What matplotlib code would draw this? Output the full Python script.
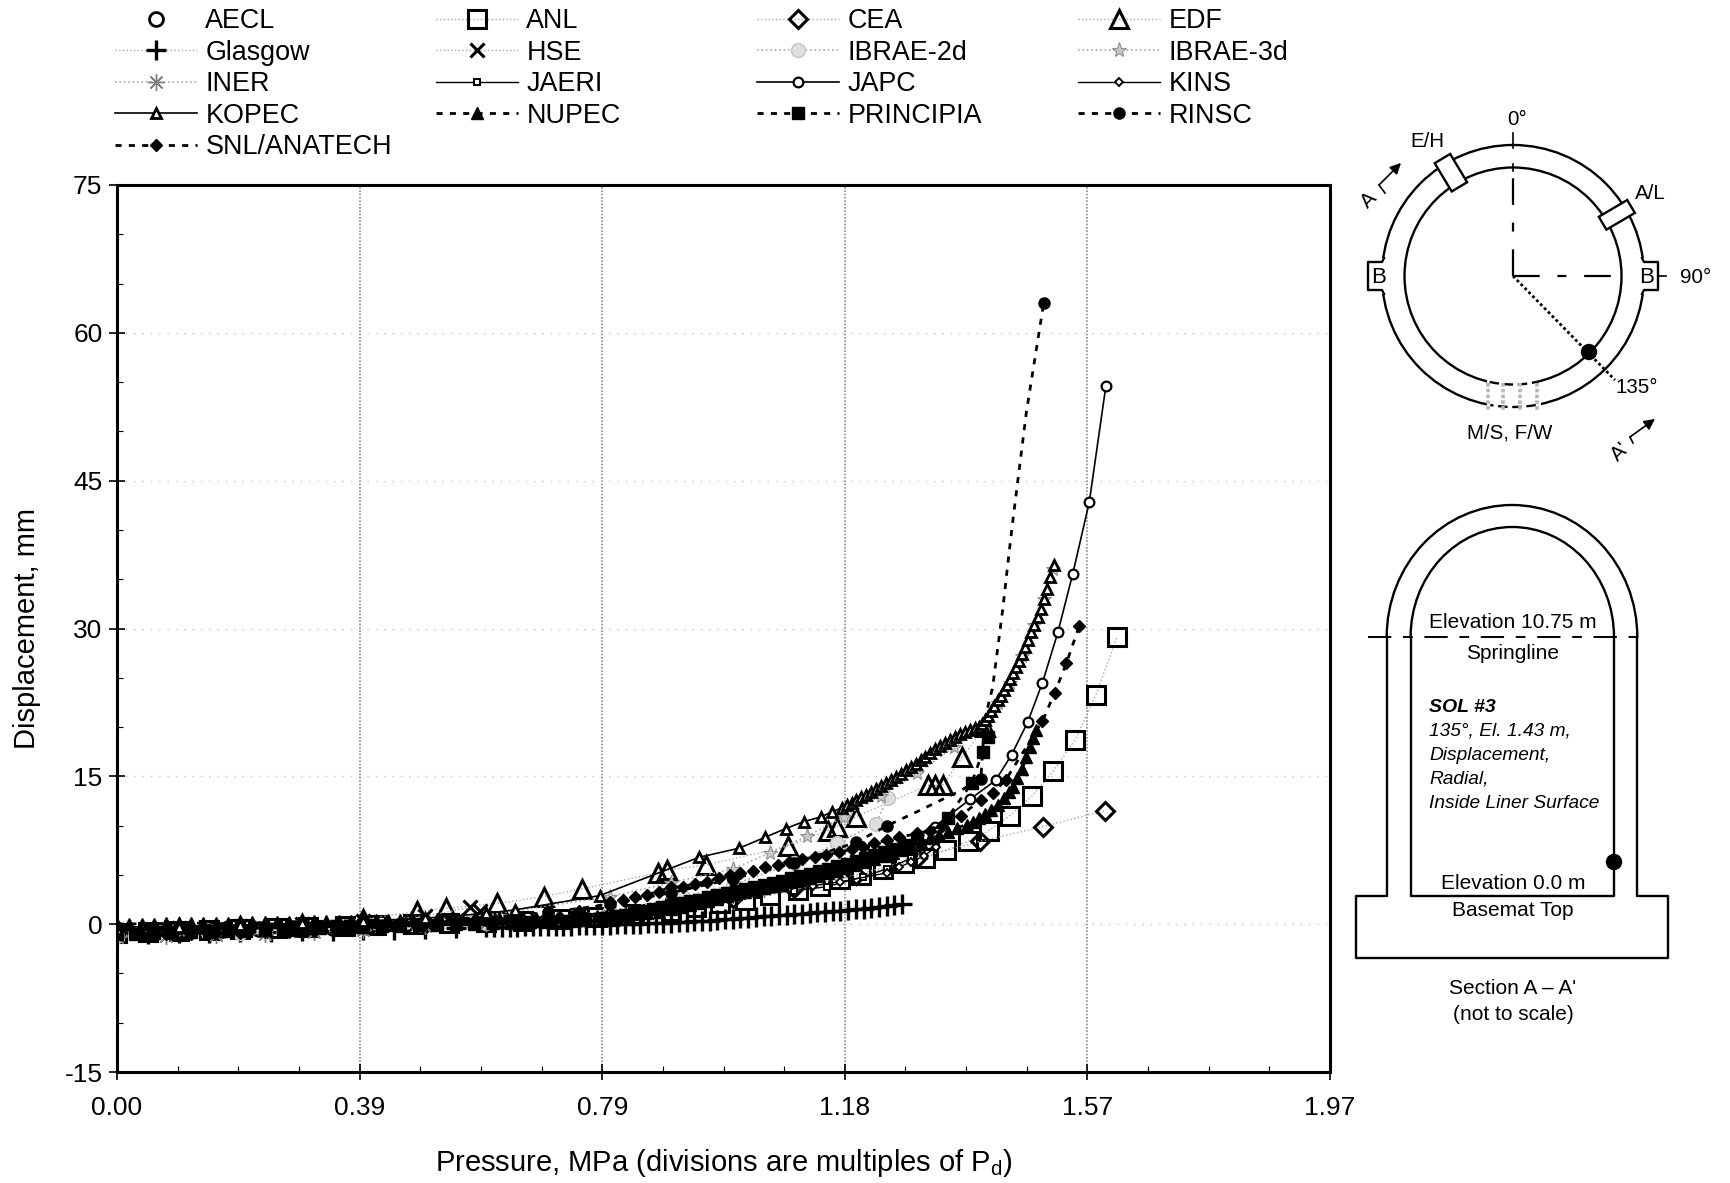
import numpy as np
import matplotlib
matplotlib.use('Agg')
import matplotlib.pyplot as plt
from matplotlib.patches import Circle, Rectangle, Arc, Polygon

plt.rcParams['font.family'] = ['Liberation Sans', 'DejaVu Sans']
plt.rcParams['mathtext.default'] = 'regular'
plt.rcParams['axes.unicode_minus'] = False

# pressure (MPa) / displacement (mm)
aecl_p = [0.0, 0.05, 0.11, 0.17, 0.23, 0.29, 0.35, 0.41, 0.47]
aecl_d = [-0.9, -0.8, -0.7, -0.6, -0.5, -0.45, -0.4, -0.2, 0.0]

anl_p = [0.0, 0.05, 0.1, 0.15, 0.2, 0.26, 0.31, 0.37, 0.42, 0.48, 0.54, 0.6, 0.66, 0.72, 0.78, 0.84, 0.9,
         0.94, 0.98, 1.02, 1.06, 1.106, 1.142, 1.174, 1.208, 1.244, 1.278, 1.312, 1.346, 1.382, 1.416,
         1.45, 1.486, 1.52, 1.556, 1.59, 1.624]
anl_d = [-0.9, -0.8, -0.7, -0.6, -0.5, -0.4, -0.3, -0.2, -0.1, 0.0, 0.1, 0.2, 0.3, 0.5, 0.7, 1.0, 1.3,
         1.7, 2.1, 2.5, 3.0, 3.5, 3.9, 4.6, 5.0, 5.6, 6.2, 6.7, 7.5, 8.4, 9.5,
         11.0, 13.0, 15.5, 18.7, 23.3, 29.1]

cea_p = [0.0, 0.1, 0.2, 0.3, 0.4, 0.5, 0.6, 0.7, 0.8, 0.9, 1.0, 1.1, 1.2, 1.3, 1.401, 1.504, 1.604]
cea_d = [-1.0, -0.7, -0.5, -0.3, -0.2, 0.0, 0.2, 0.5, 1.0, 1.8, 2.7, 3.7, 5.0, 6.7, 8.4, 9.9, 11.5]

edf_p = [0.1, 0.2, 0.3, 0.4, 0.487, 0.534, 0.617, 0.693, 0.756, 0.878, 0.894, 0.956, 1.089, 1.154, 1.169,
         1.2, 1.317, 1.328, 1.341, 1.373, 1.41]
edf_d = [-0.4, -0.2, 0.0, 0.5, 1.3, 1.6, 2.1, 2.8, 3.6, 5.2, 5.5, 6.0, 7.9, 9.5, 9.9,
         10.9, 14.1, 14.1, 14.1, 17.0, 20.0]

glasgow_p = [0.0, 0.05, 0.1, 0.15, 0.2, 0.25, 0.3, 0.35, 0.4, 0.45, 0.5, 0.55, 0.6, 0.6125, 0.625, 0.6375, 0.65,
             0.6625, 0.675, 0.6875, 0.7, 0.7125, 0.725, 0.7375, 0.75, 0.7625, 0.775, 0.7875, 0.8, 0.8125,
             0.825, 0.8375, 0.85, 0.8625, 0.875, 0.8875, 0.9, 0.9125, 0.925, 0.9375, 0.95, 0.9625, 0.975,
             0.9875, 1.0, 1.0125, 1.025, 1.0375, 1.05, 1.0625, 1.075, 1.0875, 1.1, 1.1125, 1.125, 1.1375,
             1.15, 1.1625, 1.175, 1.1875, 1.2, 1.2125, 1.225, 1.2375, 1.25, 1.2625, 1.275]
glasgow_d = [-1.0, -0.95, -0.9, -0.85, -0.8, -0.75, -0.7, -0.65, -0.6, -0.55, -0.5, -0.4, -0.3, -0.3, -0.28, -0.27, -0.25,
             -0.23, -0.22, -0.2, -0.2, -0.18, -0.16, -0.14, -0.12, -0.1, -0.1, -0.08, -0.05, -0.02,
             0.0, 0.02, 0.05, 0.08, 0.1, 0.13, 0.16, 0.2, 0.24, 0.28, 0.32, 0.36, 0.42,
             0.48, 0.54, 0.6, 0.66, 0.72, 0.78, 0.84, 0.9, 0.96, 1.02, 1.08, 1.14, 1.2,
             1.26, 1.32, 1.38, 1.44, 1.5, 1.56, 1.62, 1.7, 1.8, 1.9, 2.0]

hse_p = [0.0, 0.1, 0.2, 0.3, 0.4, 0.5, 0.573, 0.59]
hse_d = [-0.6, -0.4, -0.2, 0.0, 0.3, 0.8, 1.7, 1.3]

ibrae2d_p = [0.0, 0.2, 0.4, 0.6, 0.8, 0.92, 1.0, 1.1, 1.17, 1.232, 1.252]
ibrae2d_d = [-1.2, -0.9, -0.4, 0.1, 1.3, 2.8, 4.0, 6.2, 8.2, 10.2, 12.8]

ibrae3d_p = [0.0, 0.2, 0.4, 0.6, 0.8, 0.9, 1.0, 1.06, 1.12, 1.18, 1.24, 1.3, 1.36, 1.41, 1.43, 1.45, 1.47, 1.49, 1.505, 1.52]
ibrae3d_d = [-0.7, -0.3, 0.1, 0.9, 2.8, 4.2, 5.6, 7.2, 8.9, 10.9, 13.0, 15.3, 18.0, 20.3, 22.4, 24.5, 27.2, 30.4, 33.0, 36.0]

iner_p = [0.0, 0.08, 0.16, 0.24, 0.32, 0.4, 0.5, 0.6, 0.7, 0.8, 0.9, 1.0, 1.05, 1.1]
iner_d = [-1.3, -1.2, -1.1, -1.0, -0.8, -0.6, -0.2, 0.1, 0.7, 1.3, 2.1, 3.0, 3.6, 4.2]

jaeri_p = [0.0, 0.1, 0.2, 0.3, 0.4, 0.5, 0.6, 0.7, 0.8, 0.9, 0.98, 1.04, 1.1, 1.153, 1.211, 1.25, 1.29, 1.33]
jaeri_d = [-0.7, -0.6, -0.5, -0.4, -0.2, 0.0, 0.2, 0.5, 0.9, 1.5, 2.3, 3.0, 3.4, 3.8, 4.8, 5.6, 6.7, 8.0]

japc_p = [0.0, 0.3, 0.6, 0.8, 0.95, 1.1, 1.2, 1.28, 1.328, 1.386, 1.427, 1.453, 1.479, 1.503, 1.528, 1.552, 1.579, 1.606]
japc_d = [-0.3, 0.0, 0.4, 1.0, 2.5, 4.5, 6.3, 8.1, 9.9, 12.7, 14.6, 17.2, 20.5, 24.5, 29.6, 35.5, 42.8, 54.6]

kins_p = [0.0, 0.12, 0.24, 0.36, 0.48, 0.6, 0.72, 0.84, 0.94, 1.02, 1.09, 1.13, 1.175, 1.25, 1.27, 1.29, 1.31, 1.33]
kins_d = [-0.5, -0.4, -0.3, -0.1, 0.1, 0.4, 0.8, 1.4, 2.2, 3.0, 3.6, 3.9, 4.3, 5.2, 5.8, 6.3, 6.9, 7.8]

kopec_p = [0.0, 0.1, 0.2, 0.3, 0.4, 0.5, 0.6, 0.646, 0.784, 0.946, 1.01, 1.052, 1.086, 1.115, 1.144, 1.161, 1.177,
           1.185, 1.193, 1.201, 1.209, 1.217, 1.225, 1.233, 1.241, 1.249, 1.257, 1.265, 1.273, 1.281, 1.289,
           1.297, 1.305, 1.313, 1.321, 1.329, 1.337, 1.345, 1.353, 1.361, 1.369, 1.377, 1.385, 1.393, 1.4,
           1.405, 1.41, 1.415, 1.42, 1.425, 1.43, 1.435, 1.44, 1.445, 1.45, 1.455, 1.46, 1.465, 1.47, 1.475,
           1.48, 1.485, 1.49, 1.495, 1.5, 1.505, 1.51, 1.515, 1.521]
kopec_d = [-0.5, -0.3, -0.1, 0.1, 0.3, 0.6, 1.1, 1.45, 2.9, 6.8, 7.7, 8.8, 9.7, 10.4, 10.9, 11.4, 11.8,
           12.1, 12.3, 12.6, 12.9, 13.1, 13.4, 13.7, 14.0, 14.3, 14.6, 14.9, 15.2, 15.6, 15.9,
           16.3, 16.7, 17.0, 17.4, 17.8, 18.1, 18.4, 18.7, 19.0, 19.3, 19.5, 19.7, 19.9, 20.0,
           20.3, 20.7, 21.1, 21.6, 22.1, 22.7, 23.2, 23.8, 24.3, 24.9, 25.5, 26.1, 26.7, 27.4, 28.1,
           28.8, 29.6, 30.4, 31.2, 32.0, 33.0, 34.0, 35.2, 36.4]

nupec_p = [0.0, 0.02, 0.04, 0.06, 0.08, 0.1, 0.12, 0.14, 0.16, 0.18, 0.2, 0.22, 0.24, 0.26, 0.28, 0.3, 0.32, 0.34, 0.36,
           0.38, 0.4, 0.42, 0.44, 0.46, 0.48, 0.5, 0.52, 0.54, 0.56, 0.58, 0.6, 0.62, 0.64, 0.66, 0.68, 0.7, 0.72,
           0.74, 0.76, 0.78, 0.8, 0.82, 0.84, 0.86, 0.88, 0.9, 0.915, 0.93, 0.946, 0.96, 0.975, 0.99, 1.005, 1.02,
           1.035, 1.05, 1.065, 1.08, 1.095, 1.11, 1.125, 1.14, 1.155, 1.17, 1.185, 1.2, 1.215, 1.23, 1.245, 1.26,
           1.275, 1.29, 1.305, 1.32, 1.335, 1.35, 1.365, 1.38, 1.39, 1.4, 1.41, 1.42, 1.43, 1.44, 1.448, 1.455,
           1.462, 1.47, 1.477, 1.483, 1.488, 1.493]
nupec_d = [0.0, 0.02, 0.04, 0.05, 0.07, 0.08, 0.1, 0.12, 0.14, 0.16, 0.18, 0.2, 0.22, 0.23, 0.25, 0.26, 0.28, 0.3, 0.32,
           0.34, 0.36, 0.38, 0.4, 0.42, 0.44, 0.46, 0.48, 0.5, 0.52, 0.54, 0.56, 0.58, 0.6, 0.62, 0.64, 0.66, 0.68,
           0.72, 0.76, 0.8, 0.85, 0.9, 1.0, 1.1, 1.25, 1.5, 1.7, 1.9, 2.1, 2.4, 2.6, 2.9, 3.1, 3.3,
           3.5, 3.7, 3.9, 4.1, 4.3, 4.5, 4.7, 4.9, 5.2, 5.4, 5.7, 6.0, 6.3, 6.6, 6.9, 7.2,
           7.5, 7.9, 8.3, 8.7, 9.0, 9.4, 9.8, 10.1, 10.4, 10.8, 11.2, 11.6, 12.1, 12.8, 13.4, 13.9,
           14.8, 15.7, 17.0, 18.0, 18.9, 19.7]

principia_p = [0.0, 0.03, 0.06, 0.09, 0.12, 0.15, 0.18, 0.21, 0.24, 0.27, 0.3, 0.33, 0.36, 0.38, 0.4, 0.43, 0.46, 0.49,
               0.52, 0.55, 0.58, 0.61, 0.64, 0.67, 0.7, 0.73, 0.76, 0.79, 0.81, 0.825, 0.84, 0.855, 0.87, 0.885, 0.9,
               0.915, 0.93, 0.945, 0.96, 0.975, 0.99, 1.005, 1.02, 1.035, 1.05, 1.065, 1.08, 1.095, 1.11, 1.125, 1.14,
               1.155, 1.17, 1.185, 1.2, 1.215, 1.23, 1.245, 1.26, 1.28, 1.3, 1.349, 1.388, 1.406, 1.414]
principia_d = [-1.0, -0.95, -0.9, -0.85, -0.8, -0.75, -0.7, -0.65, -0.6, -0.55, -0.5, -0.4, -0.35, -0.3, -0.25, -0.2, -0.15, -0.1,
               -0.05, 0.0, 0.05, 0.1, 0.15, 0.2, 0.25, 0.35, 0.5, 0.65, 0.8, 0.95, 1.1, 1.3, 1.5, 1.7, 1.9,
               2.1, 2.3, 2.5, 2.8, 3.0, 3.2, 3.4, 3.6, 3.8, 4.0, 4.2, 4.4, 4.7, 4.9, 5.1, 5.4,
               5.6, 5.9, 6.1, 6.4, 6.7, 7.0, 7.3, 7.6, 8.0, 8.6, 10.8, 14.3, 17.5, 19.0]

rinsc_p = [0.0, 0.1, 0.2, 0.3, 0.4, 0.5, 0.6, 0.7, 0.8, 0.9, 1.0, 1.1, 1.2, 1.251, 1.299, 1.365, 1.403,
           1.409, 1.422, 1.432, 1.439, 1.447, 1.455, 1.477, 1.505]
rinsc_d = [-0.6, -0.4, -0.2, 0.0, 0.2, 0.4, 0.7, 1.2, 2.0, 3.2, 4.6, 6.2, 8.3, 10.0, 11.4, 13.4, 14.7,
           20.7, 24.0, 28.8, 32.2, 36.7, 41.0, 52.0, 63.0]
rinsc_marks = [0, 1, 2, 3, 4, 5, 6, 7, 8, 9, 10, 11, 12, 13, 16, 24]

snl_p = [0.0, 0.04, 0.08, 0.12, 0.16, 0.2, 0.24, 0.28, 0.32, 0.36, 0.4, 0.45, 0.5, 0.55, 0.6, 0.65, 0.7, 0.75, 0.8, 0.821,
         0.841, 0.86, 0.88, 0.9, 0.919, 0.938, 0.958, 0.977, 0.995, 1.011, 1.033, 1.053, 1.073, 1.091, 1.112, 1.133,
         1.152, 1.172, 1.193, 1.211, 1.23, 1.25, 1.27, 1.299, 1.32, 1.34, 1.37, 1.403, 1.422, 1.443, 1.503, 1.523,
         1.542, 1.563]
snl_d = [-1.1, -1.05, -1.0, -0.95, -0.9, -0.85, -0.8, -0.75, -0.65, -0.55, -0.4, -0.2, 0.0, 0.2, 0.4, 0.55, 0.8, 1.3, 2.2, 2.5,
         2.8, 3.0, 3.3, 3.8, 3.8, 4.1, 4.3, 4.7, 5.0, 5.2, 5.4, 5.8, 6.0, 6.3, 6.6, 6.8,
         7.0, 7.3, 7.6, 7.8, 8.2, 8.5, 8.8, 9.2, 9.5, 10.0, 11.0, 12.6, 13.3, 14.6, 20.6, 23.5,
         26.5, 30.3]

x_ticks = [0.0, 0.394, 0.788, 1.182, 1.576, 1.97]
x_tick_labels = ['0.00', '0.39', '0.79', '1.18', '1.57', '1.97']
y_ticks = [-15, 0, 15, 30, 45, 60, 75]

fig = plt.figure(figsize=(17.30, 11.83), dpi=100)
ax = fig.add_axes([117 / 1730, 1 - 1072 / 1183, (1330 - 117) / 1730, (1072 - 185) / 1183])

GREY = '#a8a8a8'
DASH = (0, (2.2, 2.6))

h_aecl, = ax.plot(aecl_p, aecl_d, ls='none', marker='o', ms=10, mfc='none', mec='k', mew=2)
h_anl, = ax.plot(anl_p, anl_d, color=GREY, ls=':', lw=1, marker='s', ms=12.5, mfc='none', mec='k', mew=2.2)
h_cea, = ax.plot(cea_p, cea_d, color=GREY, ls=':', lw=1, marker='D', ms=9, mfc='none', mec='k', mew=2.2)
h_edf, = ax.plot(edf_p, edf_d, color=GREY, ls=':', lw=1, marker='^', ms=13, mfc='none', mec='k', mew=2.2)
h_glasgow, = ax.plot(glasgow_p, glasgow_d, color=GREY, ls=':', lw=1, marker='+', ms=14, mec='k', mew=2.4)
h_hse, = ax.plot(hse_p, hse_d, color=GREY, ls=':', lw=1, marker='x', ms=10, mec='k', mew=2.2)
h_ibrae2d, = ax.plot(ibrae2d_p, ibrae2d_d, color=GREY, ls=':', lw=1.2, marker='o', ms=10, mfc='#dedede', mec='#c4c4c4', mew=1)
h_ibrae3d, = ax.plot(ibrae3d_p, ibrae3d_d, color=GREY, ls=':', lw=1.2, marker='*', ms=11, mfc='#c8c8c8', mec='#909090', mew=0.8)
h_iner, = ax.plot(iner_p, iner_d, color=GREY, ls=':', lw=1.2, marker=(8, 2, 0), ms=12, mec='#808080', mew=1)
h_jaeri, = ax.plot(jaeri_p, jaeri_d, color='k', ls='-', lw=1, marker='s', ms=5, mfc='white', mec='k', mew=1.4)
h_japc, = ax.plot(japc_p, japc_d, color='k', ls='-', lw=1.2, marker='o', ms=7, mfc='white', mec='k', mew=1.6)
h_kins, = ax.plot(kins_p, kins_d, color='k', ls='-', lw=1, marker='D', ms=4.2, mfc='white', mec='k', mew=1.4)
h_nupec, = ax.plot(nupec_p, nupec_d, color='k', ls=DASH, lw=2, marker='^', ms=9, mfc='k', mec='k')
h_principia, = ax.plot(principia_p, principia_d, color='k', ls=DASH, lw=2, marker='s', ms=8, mfc='k', mec='k')
h_rinsc, = ax.plot(rinsc_p, rinsc_d, color='k', ls=DASH, lw=2, marker='o', ms=8, mfc='k', mec='k', markevery=rinsc_marks)
h_snl, = ax.plot(snl_p, snl_d, color='k', ls=DASH, lw=2, marker='D', ms=6.5, mfc='k', mec='k')
h_kopec, = ax.plot(kopec_p, kopec_d, color='k', ls='-', lw=1.2, marker='^', ms=6.5, mfc='white', mec='k', mew=2)

ax.set_xlim(0, 1.97)
ax.set_ylim(-15, 75)
ax.set_xticks(x_ticks)
ax.set_xticklabels(x_tick_labels)
ax.set_yticks(y_ticks)
ax.set_xticks([0.0985, 0.197, 0.2955, 0.4925, 0.591, 0.6895, 0.8865, 0.985, 1.0835, 1.2805, 1.379, 1.4775, 1.6745, 1.773, 1.8715], minor=True)
ax.set_yticks([-10, -5, 5, 10, 20, 25, 35, 40, 50, 55, 65, 70], minor=True)
ax.tick_params(which='major', direction='inout', length=11, width=1.2, labelsize=19, pad=5)
ax.tick_params(axis='x', which='major', pad=12)
ax.tick_params(which='minor', direction='in', length=4, width=0.8)
ax.xaxis.grid(True, color='#8c8c8c', ls=(0, (1, 1)), lw=1.2)
ax.yaxis.grid(True, color='#c4c4c4', ls=(0, (1, 5)), lw=1)
ax.set_axisbelow(True)
for s in ax.spines.values():
    s.set_linewidth(2.2)
ax.set_xlabel('Pressure, MPa (divisions are multiples of P$_{d}$)', fontsize=21, labelpad=19)
ax.set_ylabel('Displacement, mm', fontsize=21, labelpad=17)

# legend, one block per column because the columns are evenly spaced
columns = [
    (115, [h_aecl, h_glasgow, h_iner, h_kopec, h_snl], ['AECL', 'Glasgow', 'INER', 'KOPEC', 'SNL/ANATECH']),
    (436, [h_anl, h_hse, h_jaeri, h_nupec], ['ANL', 'HSE', 'JAERI', 'NUPEC']),
    (757, [h_cea, h_ibrae2d, h_japc, h_principia], ['CEA', 'IBRAE-2d', 'JAPC', 'PRINCIPIA']),
    (1078, [h_edf, h_ibrae3d, h_kins, h_rinsc], ['EDF', 'IBRAE-3d', 'KINS', 'RINSC']),
]
for left, handles, labels in columns:
    fig.legend(handles, labels, loc='upper left', bbox_to_anchor=(left / 1730, 1 - 8.5 / 1183), frameon=False,
               fontsize=19.4, numpoints=1, handlelength=3.05, handletextpad=0.3, labelspacing=0.2,
               borderpad=0, borderaxespad=0)

# schematics, drawn on a full figure axes in pixels
sk = fig.add_axes([0, 0, 1, 1])
sk.set_xlim(0, 1730)
sk.set_ylim(1183, 0)
sk.axis('off')
sk.patch.set_alpha(0)

LW = 1.7
cx, cy = 1513, 276
sk.add_patch(Circle((cx, cy), 131, fc='none', ec='k', lw=LW))
sk.add_patch(Circle((cx, cy), 108.5, fc='none', ec='k', lw=LW))

# buttresses
for side in (-1, 1):
    sk.add_patch(Rectangle((cx + side * 131 - 8, cy - 18), 16, 36, fc='white', ec='none', zorder=2))
    sk.plot([cx + side * 129, cx + side * 131, cx + side * 145, cx + side * 145, cx + side * 131, cx + side * 129],
            [cy - 18, cy - 14, cy - 14, cy + 14, cy + 14, cy + 18], color='k', lw=LW, zorder=3)
    sk.text(cx + side * 134, cy + 1, 'B', fontsize=16, ha='center', va='center', zorder=4)

# E/H and A/L hatches
for deg, half in ((-31, 9), (59.5, 7.5)):
    a = np.radians(deg)
    ux, uy = np.sin(a), -np.cos(a)
    vx, vy = np.cos(a), np.sin(a)
    corners = [(cx + ux * r + vx * s * half, cy + uy * r + vy * s * half)
               for r, s in ((104, -1), (137, -1), (137, 1), (104, 1))]
    sk.add_patch(Polygon(corners, closed=True, fc='white', ec='k', lw=LW, zorder=3))

# M/S, F/W opening
sk.add_patch(Rectangle((1487, 378), 54, 36, fc='white', ec='none', zorder=2))
t0, t1 = 65, 115
sk.add_patch(Arc((cx, cy), 217, 217, theta1=t0 + 10, theta2=t1 - 10, ec='k', lw=LW, ls=(0, (4, 2)), zorder=3))
sk.add_patch(Arc((cx, cy), 262, 262, theta1=t0 + 15, theta2=t1 - 15, ec='k', lw=LW, ls=(0, (4, 2)), zorder=3))
for xv in (1488, 1503, 1520, 1537):
    sk.plot([xv, xv], [383, 411], color='#b8b8b8', lw=2.6, ls=(0, (1, 0.6)), zorder=3)

sk.plot([cx, cx], [cy, cy - 108], color='k', lw=1.6, ls=(0, (12, 8, 4, 8)))
sk.plot([cx, cx + 108], [cy, cy], color='k', lw=1.6, ls=(0, (12, 8, 4, 8)))
sk.plot([cx, cx], [cy - 143, cy - 128], color='k', lw=1.2)
sk.plot([cx, cx], [cy - 112, cy - 105], color='k', lw=1.2)
sk.plot([cx + 145, cx + 153], [cy, cy], color='k', lw=1.2)
sk.plot([cx, 1615], [cy, 380], color='k', lw=2, ls=(0, (1, 1)))
sk.add_patch(Circle((1589, 352), 7.5, fc='k', ec='k', zorder=5))

# section arrows
sk.plot([1385, 1379], [193, 185], color='k', lw=1.2)
sk.annotate('', xy=(1401, 163), xytext=(1379, 185), arrowprops=dict(arrowstyle='-|>', color='k', lw=1.2, mutation_scale=16, shrinkA=0, shrinkB=0))
sk.plot([1633, 1630], [443, 437], color='k', lw=1.2)
sk.annotate('', xy=(1655, 419), xytext=(1630, 437), arrowprops=dict(arrowstyle='-|>', color='k', lw=1.2, mutation_scale=16, shrinkA=0, shrinkB=0))
sk.text(1369, 200, 'A', fontsize=15, rotation=45, ha='center', va='center')
sk.text(1620, 452, "A'", fontsize=15, rotation=45, ha='center', va='center')

for tx, ty, label in ((1517, 119, '0°'), (1427, 141, 'E/H'), (1650, 193, 'A/L'), (1696, 277, '90°'),
                      (1637, 387, '135°'), (1510, 433, 'M/S, F/W')):
    sk.text(tx, ty, label, fontsize=14.8, ha='center', va='center')

# elevation section
sk.add_patch(Arc((1512, 637), 250.6, 264, theta1=180, theta2=360, ec='k', lw=LW))
sk.add_patch(Arc((1512.3, 637), 203.4, 220, theta1=180, theta2=360, ec='k', lw=LW))
sk.plot([1386.7, 1386.7, 1356, 1356, 1668, 1668, 1637.3, 1637.3], [637, 896, 896, 958, 958, 896, 896, 637], color='k', lw=LW)
sk.plot([1410.6, 1410.6, 1614, 1614], [637, 896, 896, 637], color='k', lw=LW)
sk.plot([1368, 1648], [637, 637], color='k', lw=1.4, ls=(0, (12, 6, 5, 6)))
sk.add_patch(Circle((1614, 862), 7.5, fc='k', ec='k', zorder=5))

for ty, label in ((622, 'Elevation 10.75 m'), (653, 'Springline'), (883, 'Elevation 0.0 m'),
                  (910, 'Basemat Top'), (988, 'Section A – A\''), (1014, '(not to scale)')):
    sk.text(1513, ty, label, fontsize=15, ha='center', va='center')
sk.text(1429, 707, 'SOL #3', fontsize=14, style='italic', weight='bold', va='center')
for ty, label in ((731, '135°, El. 1.43 m,'), (755, 'Displacement,'), (779, 'Radial,'), (803, 'Inside Liner Surface')):
    sk.text(1429, ty, label, fontsize=13.8, style='italic', va='center')

fig.savefig('out.png', dpi=100)
